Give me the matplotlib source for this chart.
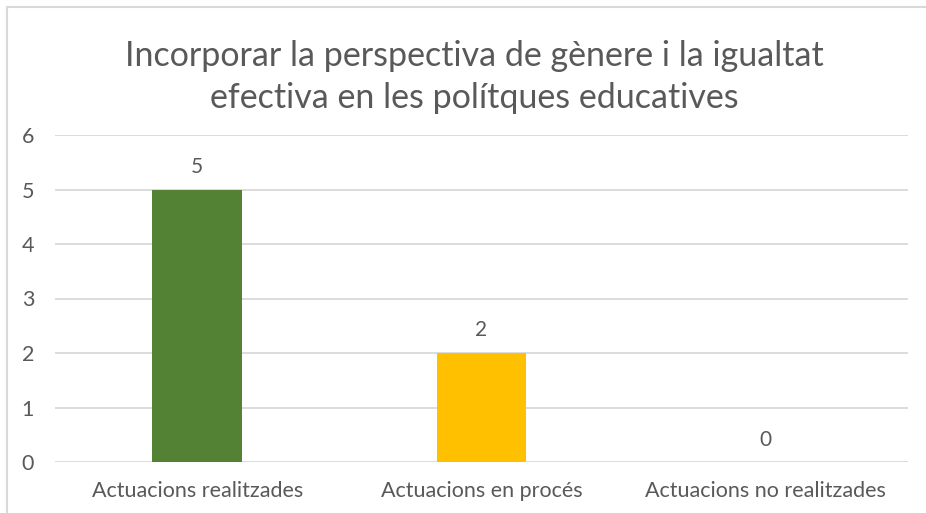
import matplotlib
matplotlib.use("Agg")
import matplotlib.pyplot as plt
from matplotlib.patches import Rectangle

plt.rcParams['font.family'] = ['Lato', 'DejaVu Sans']

# data
categories = ["Actuacions realitzades", "Actuacions en procés", "Actuacions no realitzades"]
values = [5, 2, 0]
colors = ["#548235", "#FFC000", "#A5A5A5"]
title = "Incorporar la perspectiva de gènere i la igualtat\nefectiva en les polítques educatives"

text_col = "#595959"
grid_col = "#D9D9D9"

fig = plt.figure(figsize=(9.26, 5.13), dpi=100)
ax = fig.add_axes([55/926, 1 - 462/513, 853/926, (462 - 135)/513])

x = range(len(categories))
bars = ax.bar(x, values, width=0.316, color=colors, zorder=3)

# value labels above bars
for xi, v in zip(x, values):
    ax.annotate(str(v), (xi, v), xytext=(0, 9), textcoords="offset points",
                ha="center", va="bottom", fontsize=15, color=text_col)

ax.set_xlim(-0.5, len(categories) - 0.5)
ax.set_ylim(0, 6)
ax.set_yticks(range(0, 7))
ax.set_xticks(list(x))
ax.set_xticklabels(categories)
ax.tick_params(axis="both", length=0, labelsize=15.5, labelcolor=text_col)
ax.tick_params(axis="y", pad=15)
ax.tick_params(axis="x", pad=14)
ax.grid(axis="y", color=grid_col, linewidth=1.3, zorder=0)
for s in ax.spines.values():
    s.set_visible(False)

fig.text(474/926, 1 - 77/513, title, ha="center", va="center", fontsize=24.5,
         color=text_col, linespacing=1.42)

# chart border (only left and top visible in the reference)
fig.patches.append(Rectangle((7/926, -0.1), 1.2, 1 - 7/513 + 0.1,
                             transform=fig.transFigure, fill=False,
                             edgecolor=grid_col, linewidth=1.5))

fig.savefig("out.png", dpi=100)
